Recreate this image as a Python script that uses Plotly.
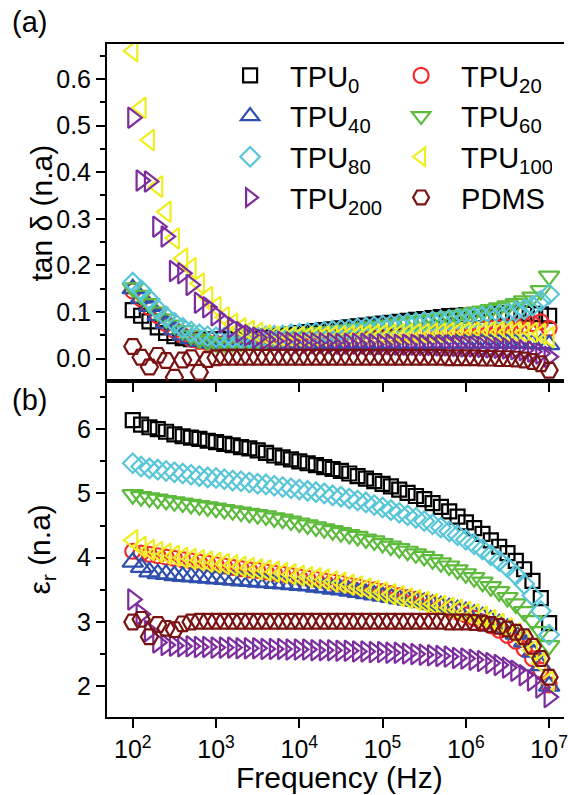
import plotly.graph_objects as go

# ---------------- data ----------------
FREQ = [1.000e2, 1.259e2, 1.585e2, 1.995e2, 2.512e2, 3.162e2, 3.981e2, 5.012e2, 6.310e2, 7.943e2,
        1.000e3, 1.259e3, 1.585e3, 1.995e3, 2.512e3, 3.162e3, 3.981e3, 5.012e3, 6.310e3, 7.943e3,
        1.000e4, 1.259e4, 1.585e4, 1.995e4, 2.512e4, 3.162e4, 3.981e4, 5.012e4, 6.310e4, 7.943e4,
        1.000e5, 1.259e5, 1.585e5, 1.995e5, 2.512e5, 3.162e5, 3.981e5, 5.012e5, 6.310e5, 7.943e5,
        1.000e6, 1.259e6, 1.585e6, 1.995e6, 2.512e6, 3.162e6, 3.981e6, 5.012e6, 6.310e6, 7.943e6,
        1.000e7]

SERIES = ["TPU<sub>0</sub>", "TPU<sub>20</sub>", "TPU<sub>40</sub>", "TPU<sub>60</sub>",
          "TPU<sub>80</sub>", "TPU<sub>100</sub>", "TPU<sub>200</sub>", "PDMS"]

TAN_TPU0 = [0.104, 0.092, 0.080, 0.067, 0.055, 0.048, 0.044, 0.042, 0.041, 0.041,
            0.041, 0.042, 0.043, 0.044, 0.045, 0.046, 0.047, 0.049, 0.050, 0.052,
            0.055, 0.057, 0.059, 0.061, 0.063, 0.065, 0.067, 0.069, 0.071, 0.073,
            0.075, 0.077, 0.079, 0.081, 0.083, 0.085, 0.087, 0.089, 0.091, 0.092,
            0.093, 0.094, 0.095, 0.096, 0.096, 0.097, 0.097, 0.097, 0.096, 0.095,
            0.092]
TAN_TPU20 = [0.145, 0.128, 0.110, 0.092, 0.075, 0.061, 0.050, 0.042, 0.037, 0.034,
             0.033, 0.033, 0.034, 0.035, 0.036, 0.037, 0.038, 0.039, 0.040, 0.041,
             0.042, 0.043, 0.044, 0.045, 0.046, 0.047, 0.048, 0.049, 0.050, 0.051,
             0.052, 0.053, 0.054, 0.055, 0.056, 0.057, 0.058, 0.059, 0.060, 0.061,
             0.062, 0.063, 0.064, 0.065, 0.066, 0.068, 0.070, 0.072, 0.075, 0.079,
             0.065]
TAN_TPU40 = [0.150, 0.130, 0.112, 0.093, 0.076, 0.062, 0.051, 0.043, 0.037, 0.034,
             0.032, 0.031, 0.031, 0.031, 0.031, 0.031, 0.031, 0.031, 0.031, 0.031,
             0.031, 0.031, 0.031, 0.031, 0.032, 0.032, 0.032, 0.032, 0.032, 0.032,
             0.032, 0.032, 0.032, 0.032, 0.032, 0.033, 0.033, 0.033, 0.033, 0.033,
             0.033, 0.033, 0.033, 0.033, 0.033, 0.033, 0.033, 0.033, 0.032, 0.032,
             0.030]
TAN_TPU60 = [0.152, 0.136, 0.118, 0.100, 0.085, 0.072, 0.060, 0.050, 0.042, 0.037,
             0.034, 0.034, 0.035, 0.036, 0.038, 0.040, 0.042, 0.044, 0.046, 0.048,
             0.050, 0.052, 0.054, 0.056, 0.058, 0.060, 0.062, 0.064, 0.066, 0.068,
             0.070, 0.072, 0.074, 0.077, 0.080, 0.082, 0.085, 0.088, 0.090, 0.093,
             0.096, 0.099, 0.102, 0.105, 0.109, 0.113, 0.118, 0.124, 0.132, 0.146,
             0.177]
TAN_TPU80 = [0.163, 0.147, 0.127, 0.106, 0.090, 0.077, 0.066, 0.058, 0.052, 0.048,
             0.046, 0.045, 0.045, 0.045, 0.046, 0.047, 0.048, 0.049, 0.050, 0.052,
             0.053, 0.055, 0.056, 0.058, 0.060, 0.062, 0.063, 0.065, 0.067, 0.069,
             0.071, 0.072, 0.074, 0.076, 0.077, 0.079, 0.080, 0.082, 0.083, 0.085,
             0.086, 0.088, 0.090, 0.092, 0.094, 0.097, 0.101, 0.106, 0.113, 0.124,
             0.138]
TAN_TPU100 = [0.660, 0.538, 0.469, 0.369, 0.315, 0.258, 0.215, 0.194, 0.161, 0.132,
              0.111, 0.089, 0.075, 0.065, 0.060, 0.055, 0.050, 0.047, 0.046, 0.046,
              0.046, 0.046, 0.047, 0.047, 0.048, 0.048, 0.049, 0.049, 0.050, 0.050,
              0.051, 0.051, 0.052, 0.052, 0.053, 0.053, 0.054, 0.054, 0.055, 0.055,
              0.056, 0.056, 0.056, 0.057, 0.057, 0.057, 0.057, 0.056, 0.055, 0.053,
              0.046]
TAN_TPU200 = [0.517, 0.382, 0.380, 0.283, 0.262, 0.188, 0.183, 0.158, 0.120, 0.110,
              0.093, 0.078, 0.067, 0.057, 0.050, 0.045, 0.041, 0.038, 0.036, 0.035,
              0.034, 0.034, 0.033, 0.033, 0.033, 0.032, 0.032, 0.032, 0.032, 0.031,
              0.031, 0.031, 0.030, 0.030, 0.030, 0.029, 0.029, 0.028, 0.028, 0.027,
              0.026, 0.026, 0.025, 0.024, 0.023, 0.022, 0.020, 0.018, 0.015, 0.011,
              0.004]
TAN_PDMS = [0.026, 0.003, -0.018, 0.007, -0.004, -0.040, -0.003, 0.002, -0.029, -0.002,
            0.002, 0.003, 0.003, 0.003, 0.003, 0.003, 0.003, 0.003, 0.003, 0.003,
            0.003, 0.003, 0.003, 0.003, 0.003, 0.003, 0.003, 0.003, 0.003, 0.003,
            0.003, 0.003, 0.003, 0.003, 0.003, 0.003, 0.003, 0.003, 0.002, 0.002,
            0.002, 0.002, 0.001, 0.001, 0.000, 0.000, -0.001, -0.003, -0.006, -0.011,
            -0.025]

EPS_TPU0 = [6.14, 6.07, 6.03, 6.00, 5.96, 5.92, 5.89, 5.87, 5.85, 5.82,
            5.80, 5.77, 5.75, 5.72, 5.70, 5.67, 5.63, 5.59, 5.56, 5.53,
            5.50, 5.47, 5.44, 5.41, 5.38, 5.35, 5.31, 5.27, 5.23, 5.19,
            5.15, 5.11, 5.06, 5.01, 4.96, 4.91, 4.85, 4.79, 4.72, 4.64,
            4.55, 4.46, 4.37, 4.27, 4.17, 4.07, 3.95, 3.82, 3.64, 3.37,
            2.98]
EPS_TPU20 = [4.10, 4.07, 4.05, 4.03, 4.01, 3.99, 3.97, 3.95, 3.93, 3.91,
             3.89, 3.87, 3.85, 3.83, 3.81, 3.80, 3.78, 3.76, 3.74, 3.72,
             3.70, 3.68, 3.66, 3.64, 3.62, 3.60, 3.57, 3.55, 3.52, 3.50,
             3.47, 3.44, 3.41, 3.38, 3.35, 3.32, 3.28, 3.24, 3.20, 3.16,
             3.11, 3.06, 3.00, 2.94, 2.87, 2.79, 2.70, 2.58, 2.43, 2.25,
             2.02]
EPS_TPU40 = [3.93, 3.85, 3.78, 3.75, 3.74, 3.72, 3.71, 3.70, 3.69, 3.68,
             3.67, 3.66, 3.65, 3.64, 3.63, 3.62, 3.61, 3.60, 3.59, 3.58,
             3.57, 3.56, 3.54, 3.53, 3.51, 3.50, 3.48, 3.46, 3.44, 3.42,
             3.40, 3.38, 3.36, 3.34, 3.32, 3.30, 3.27, 3.25, 3.22, 3.19,
             3.16, 3.12, 3.08, 3.03, 2.97, 2.90, 2.81, 2.69, 2.53, 2.32,
             2.00]
EPS_TPU60 = [4.98, 4.95, 4.93, 4.91, 4.89, 4.87, 4.85, 4.83, 4.81, 4.79,
             4.77, 4.75, 4.73, 4.71, 4.69, 4.67, 4.65, 4.62, 4.60, 4.57,
             4.54, 4.51, 4.48, 4.45, 4.42, 4.39, 4.36, 4.33, 4.29, 4.26,
             4.22, 4.18, 4.14, 4.10, 4.06, 4.02, 3.97, 3.92, 3.87, 3.81,
             3.75, 3.69, 3.62, 3.55, 3.47, 3.38, 3.28, 3.16, 3.02, 2.85,
             2.63]
EPS_TPU80 = [5.47, 5.42, 5.39, 5.37, 5.35, 5.33, 5.31, 5.29, 5.27, 5.25,
             5.24, 5.22, 5.20, 5.19, 5.17, 5.15, 5.14, 5.12, 5.10, 5.08,
             5.06, 5.04, 5.02, 5.00, 4.97, 4.95, 4.92, 4.89, 4.86, 4.82,
             4.78, 4.74, 4.70, 4.66, 4.62, 4.57, 4.52, 4.47, 4.41, 4.35,
             4.28, 4.21, 4.13, 4.04, 3.95, 3.85, 3.73, 3.59, 3.41, 3.17,
             2.80]
EPS_TPU100 = [4.27, 4.17, 4.12, 4.09, 4.06, 4.03, 4.00, 3.98, 3.96, 3.94,
              3.92, 3.90, 3.88, 3.86, 3.84, 3.82, 3.80, 3.78, 3.76, 3.74,
              3.72, 3.70, 3.68, 3.66, 3.63, 3.61, 3.58, 3.55, 3.52, 3.49,
              3.46, 3.43, 3.40, 3.37, 3.34, 3.31, 3.28, 3.25, 3.22, 3.19,
              3.16, 3.12, 3.08, 3.03, 2.97, 2.90, 2.82, 2.71, 2.56, 2.36,
              2.08]
EPS_TPU200 = [3.35, 3.12, 2.86, 2.68, 2.64, 2.63, 2.62, 2.62, 2.61, 2.61,
              2.60, 2.60, 2.60, 2.59, 2.59, 2.59, 2.58, 2.58, 2.58, 2.57,
              2.57, 2.57, 2.56, 2.56, 2.56, 2.55, 2.55, 2.54, 2.54, 2.53,
              2.53, 2.52, 2.52, 2.51, 2.50, 2.49, 2.48, 2.47, 2.46, 2.44,
              2.43, 2.41, 2.39, 2.36, 2.33, 2.29, 2.24, 2.17, 2.09, 1.98,
              1.83]
EPS_PDMS = [3.00, 3.04, 2.77, 2.96, 2.90, 2.88, 2.97, 3.00, 3.01, 3.01,
            3.01, 3.01, 3.01, 3.01, 3.01, 3.01, 3.01, 3.01, 3.01, 3.01,
            3.01, 3.01, 3.01, 3.01, 3.01, 3.01, 3.01, 3.01, 3.01, 3.01,
            3.01, 3.01, 3.01, 3.01, 3.01, 3.01, 3.01, 3.01, 3.00, 3.00,
            3.00, 2.99, 2.98, 2.96, 2.93, 2.89, 2.84, 2.77, 2.62, 2.43,
            2.14]

TAN = [TAN_TPU0, TAN_TPU20, TAN_TPU40, TAN_TPU60, TAN_TPU80, TAN_TPU100, TAN_TPU200, TAN_PDMS]
EPS = [EPS_TPU0, EPS_TPU20, EPS_TPU40, EPS_TPU60, EPS_TPU80, EPS_TPU100, EPS_TPU200, EPS_PDMS]

X_TICKS = [1e2, 1e3, 1e4, 1e5, 1e6, 1e7]
X_TICKTEXT = ["10<sup>2</sup>", "10<sup>3</sup>", "10<sup>4</sup>",
              "10<sup>5</sup>", "10<sup>6</sup>", "10<sup>7</sup>"]

# ---------------- style ----------------
COLORS = ["#000000", "#f42a2a", "#2f4fae", "#5dbb3c", "#58c6d8", "#eeee22", "#7c2c9c", "#7a1212"]
SYMBOLS = ["square-open", "circle-open", "triangle-up-open", "triangle-down-open",
           "diamond-open", "triangle-left-open", "triangle-right-open", "hexagon2-open"]
SIZES = [14, 15, 18, 18, 15, 18, 18, 17]
FONT = "Liberation Sans, Arial, sans-serif"

W, H = 568, 795
ML, MR, MT, MB = 107, 0, 44, 78
PW, PH = W - ML - MR, H - MT - MB
SPLIT = (717 - 381) / PH


def px(x):
    return (x - ML) / PW


def py(y):
    return (H - MB - y) / PH


fig = go.Figure()
for k in range(len(SERIES)):
    mk = dict(symbol=SYMBOLS[k], size=SIZES[k], color=COLORS[k],
              line=dict(width=2.2, color=COLORS[k]))
    fig.add_trace(go.Scatter(x=FREQ, y=TAN[k], mode="markers", name=SERIES[k],
                             marker=mk, xaxis="x2", yaxis="y2", showlegend=True))
for k in range(len(SERIES)):
    mk = dict(symbol=SYMBOLS[k], size=SIZES[k], color=COLORS[k],
              line=dict(width=2.2, color=COLORS[k]))
    fig.add_trace(go.Scatter(x=FREQ, y=EPS[k], mode="markers", name=SERIES[k],
                             marker=mk, xaxis="x", yaxis="y", showlegend=False))

axis_common = dict(showline=True, linecolor="black", linewidth=2, showgrid=False,
                   zeroline=False, ticks="outside", tickcolor="black", tickwidth=2,
                   ticklen=9, tickfont=dict(family=FONT, size=25, color="black"))
xr = [2 - (133 - ML) / 84.0, 2 + (W - MR - 133) / 84.0]

fig.update_layout(
    width=W, height=H, margin=dict(l=ML, r=MR, t=MT, b=MB),
    paper_bgcolor="white", plot_bgcolor="white",
    xaxis=dict(type="log", range=xr, domain=[0, 1], anchor="y", mirror=True,
               tickvals=X_TICKS, ticktext=X_TICKTEXT, ticklabeloverflow="allow",
               **axis_common),
    xaxis2=dict(type="log", range=xr, domain=[0, 1], anchor="y2", mirror=True,
                tickvals=X_TICKS, showticklabels=False, **axis_common),
    yaxis=dict(domain=[0, SPLIT], range=[1.52, 6.75], tick0=0, dtick=1, anchor="x",
               minor=dict(dtick=0.5, tick0=0, ticks="outside", ticklen=5, tickwidth=2,
                          tickcolor="black", showgrid=False),
               **axis_common),
    yaxis2=dict(domain=[SPLIT, 1], range=[-0.048, 0.675], tick0=0, dtick=0.1,
                tickformat=".1f", anchor="x2",
                minor=dict(dtick=0.05, tick0=0, ticks="outside", ticklen=5, tickwidth=2,
                           tickcolor="black", showgrid=False),
                **axis_common),
    legend=dict(orientation="h", x=px(211), y=py(50), xanchor="left", yanchor="top",
                entrywidth=86, entrywidthmode="pixels", itemwidth=70,
                font=dict(family=FONT, size=29, color="black"),
                bgcolor="rgba(0,0,0,0)", traceorder="normal"),
    showlegend=True,
)

ann_font = dict(family=FONT, size=30, color="black")
fig.add_annotation(text="(a)", x=px(9), y=py(22), xref="paper", yref="paper",
                   xanchor="left", yanchor="middle", showarrow=False,
                   font=dict(family=FONT, size=29, color="black"))
fig.add_annotation(text="(b)", x=px(9), y=py(400), xref="paper", yref="paper",
                   xanchor="left", yanchor="middle", showarrow=False,
                   font=dict(family=FONT, size=29, color="black"))
fig.add_annotation(text="tan δ (n.a)", x=px(40), y=py(213), xref="paper", yref="paper",
                   xanchor="center", yanchor="middle", textangle=-90, showarrow=False,
                   font=ann_font)
fig.add_annotation(text="ε<sub>r</sub> (n.a)", x=px(40), y=py(550), xref="paper", yref="paper",
                   xanchor="center", yanchor="middle", textangle=-90, showarrow=False,
                   font=ann_font)
fig.add_annotation(text="Frequency (Hz)", x=px(342), y=py(778), xref="paper", yref="paper",
                   xanchor="center", yanchor="middle", showarrow=False, font=ann_font)

fig.write_html("out.html")
